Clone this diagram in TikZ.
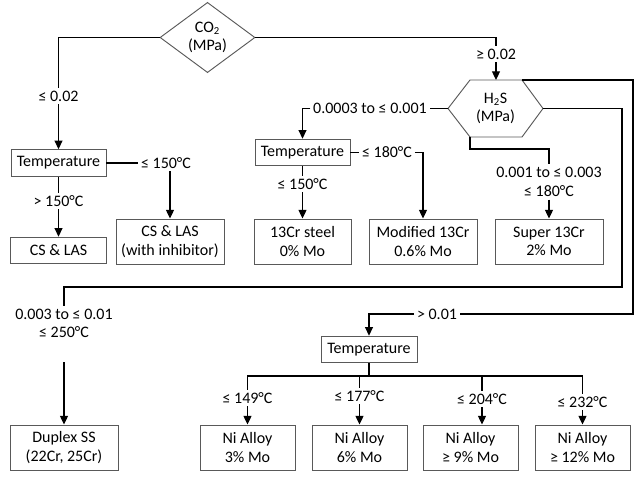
\documentclass[tikz,border=0pt]{standalone}
\usepackage{fontspec}
\setmainfont{Carlito}
\usetikzlibrary{shapes.geometric,arrows.meta}

\begin{document}
\begin{tikzpicture}[x=0.75pt,y=-0.75pt,
  font=\fontsize{12}{14}\selectfont,
  box/.style={draw=black!65, line width=0.7pt, align=center, inner sep=0pt, minimum height=20pt},
  tallbox/.style={box, minimum height=33.75pt},
  cond/.style={align=center, inner sep=2pt},
  conn/.style={line width=0.8pt},
  arr/.style={conn, -{Triangle[length=6.5pt,width=6pt]}}]

\useasboundingbox (0,0) rectangle (640,482);

% Decisions
\node[diamond, draw=black!65, line width=0.7pt, align=center, inner sep=0pt,
  minimum width=71.25pt, minimum height=45.75pt] (co2) at (207.5,37.5) {CO\textsubscript{2}\\(MPa)};

\coordinate (h2sW) at (448,108.5);
\coordinate (h2sNW) at (470,80);
\coordinate (h2sNE) at (522,80);
\coordinate (h2sE) at (543,108.5);
\coordinate (h2sSE) at (522,137);
\coordinate (h2sSW) at (470,137);
\coordinate (h2sN) at (496,80);
\draw[draw=black!65, line width=0.7pt] (h2sW) -- (h2sNW) -- (h2sNE) -- (h2sE) -- (h2sSE) -- (h2sSW) -- cycle;
\node[align=center] (h2s) at (495.5,108.5) {H\textsubscript{2}S\\(MPa)};

% Temperature boxes
\node[box, minimum width=71.25pt] (temp1) at (58.5,163) {Temperature};
\node[box, minimum width=71.25pt] (temp2) at (302.5,152.5) {Temperature};
\node[box, minimum width=72pt] (temp3) at (369,349.5) {Temperature};

% Materials
\node[box, minimum width=72pt] (cslas) at (58.5,250.5) {CS \& LAS};
\node[tallbox, minimum width=81pt] (csinh) at (170,241.5) {CS \& LAS\\(with inhibitor)};
\node[tallbox, minimum width=72.75pt] (cr13) at (302.5,241.5) {13Cr steel\\0\% Mo};
\node[tallbox, minimum width=81pt] (mod13) at (423,241.5) {Modified 13Cr\\0.6\% Mo};
\node[tallbox, minimum width=81pt] (sup13) at (549,241.5) {Super 13Cr\\2\% Mo};
\node[tallbox, minimum width=81pt] (duplex) at (64,447.5) {Duplex SS\\(22Cr, 25Cr)};
\node[tallbox, minimum width=71.25pt] (ni3) at (247.5,447.5) {Ni Alloy\\3\% Mo};
\node[tallbox, minimum width=71.25pt] (ni6) at (359.5,447.5) {Ni Alloy\\6\% Mo};
\node[tallbox, minimum width=71.25pt] (ni9) at (470.5,447.5) {Ni Alloy\\≥ 9\% Mo};
\node[tallbox, minimum width=71.25pt] (ni12) at (582.5,447.5) {Ni Alloy\\≥ 12\% Mo};

% Conditions
\node[cond] (lco2low) at (58.5,96) {≤ 0.02};
\node[cond] (lco2high) at (496,54) {≥ 0.02};
\node[cond] (lhot1) at (58.5,201) {> 150°C};
\node[cond] (lcold1) at (166,163) {≤ 150°C};
\node[cond] (lh2sA) at (370,108.5) {0.0003 to ≤ 0.001};
\node[cond] (lcold2) at (302.5,184) {≤ 150°C};
\node[cond] (lwarm2) at (387,152.5) {≤ 180°C};
\node[cond] (lh2sB) at (549,182) {0.001 to ≤ 0.003\\≤ 180°C};
\node[cond] (lh2sC) at (64,323.5) {0.003 to ≤ 0.01\\≤ 250°C};
\node[cond] (lh2sD) at (437,314) {> 0.01};
\node[cond] (l149) at (247.5,398) {≤ 149°C};
\node[cond] (l177) at (359.5,396) {≤ 177°C};
\node[cond] (l204) at (482,399) {≤ 204°C};
\node[cond] (l232) at (582.5,402) {≤ 232°C};

% Bends
\coordinate (lowBend) at (549,149);
\coordinate (innerBend) at (622,287);
\coordinate (outerBend) at (633,314);
\coordinate (dupStart) at (64,362);
\coordinate (bus) at (369,376);

% CO2 branches
\draw[conn] (co2.west) -| (lco2low);
\draw[arr] (lco2low) -- (temp1);
\draw[conn] (co2.east) -| (lco2high);
\draw[arr] (lco2high) -- (h2sN);

% Low CO2
\draw[conn] (temp1) -- (lhot1);
\draw[arr] (lhot1) -- (cslas);
\draw[conn] (temp1.east) -- (lcold1.west);
\draw[arr] (lcold1.south -| csinh) -- (csinh);

% H2S branches
\draw[conn] (h2sW) -- (lh2sA);
\draw[arr] (lh2sA.west) -| (temp2);
\draw[conn] (temp2) -- (lcold2);
\draw[arr] (lcold2) -- (cr13);
\draw[conn] (temp2.east) -- (lwarm2.west);
\draw[arr] (lwarm2.east) -| (mod13);
\draw[conn] (h2sSW) |- (lowBend) -- (lh2sB);
\draw[arr] (lh2sB) -- (sup13);
\draw[conn] (h2sE) -| (innerBend) -| (lh2sC);
\draw[arr] (dupStart) -- (duplex);
\draw[conn] (h2sNE) -| (outerBend) -- (lh2sD.east);
\draw[arr] (lh2sD.west) -| (temp3);

% Ni alloys
\draw[conn] (temp3) -- (bus);
\foreach \t/\n in {l149/ni3, l177/ni6, l204/ni9, l232/ni12} {
  \draw[conn] (bus) -| (\t);
  \draw[arr] (\t.south) -- (\t.south |- \n.north);
}

\end{tikzpicture}
\end{document}
